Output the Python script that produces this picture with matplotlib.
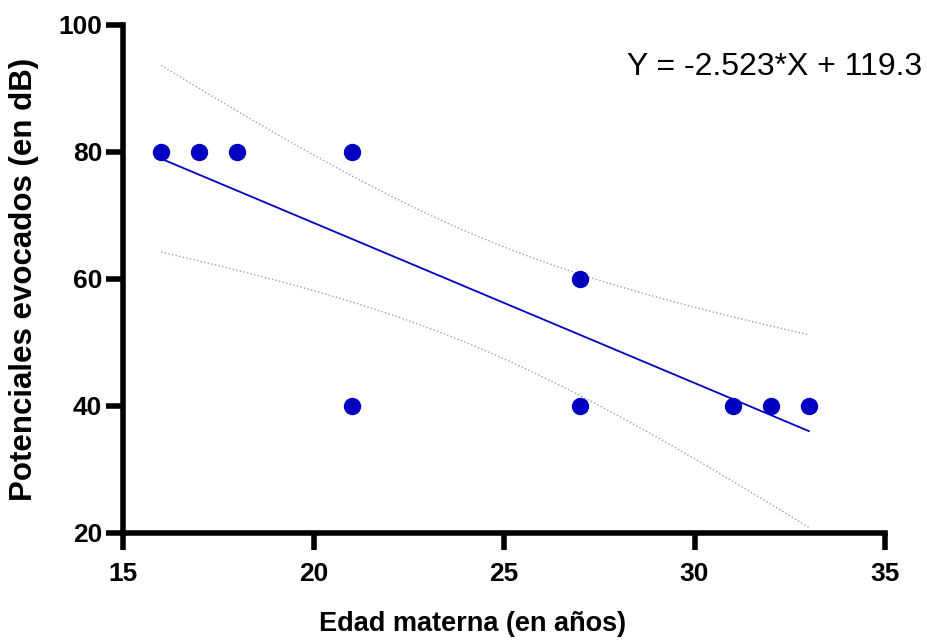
import numpy as np
import matplotlib
matplotlib.use('Agg')
import matplotlib.pyplot as plt

# Datos: edad materna vs potenciales evocados
edad = np.array([16, 17, 18, 21, 21, 27, 27, 31, 32, 33])
potenciales = np.array([80, 80, 80, 80, 40, 60, 40, 40, 40, 40])

plt.rcParams['font.family'] = ['Liberation Sans', 'DejaVu Sans']

fig = plt.figure(figsize=(9.27, 6.42), dpi=100)
ax = fig.add_axes([0.1327, 0.1698, 0.822, 0.7913])

# Regresión lineal con banda de confianza 95%
n = len(edad)
pendiente, intercepto = np.polyfit(edad, potenciales, 1)
xs = np.linspace(edad.min(), edad.max(), 100)
ys = pendiente * xs + intercepto
resid = potenciales - (pendiente * edad + intercepto)
s = np.sqrt(np.sum(resid ** 2) / (n - 2))
sxx = np.sum((edad - edad.mean()) ** 2)
t = 2.306  # t(0.975, 8 gl)
se = s * np.sqrt(1 / n + (xs - edad.mean()) ** 2 / sxx)

azul = '#0000C0'
ax.plot(xs, ys + t * se, ':', color='#a0a0a0', lw=1.0)
ax.plot(xs, ys - t * se, ':', color='#a0a0a0', lw=1.0)
ax.plot(xs, ys, '-', color=azul, lw=1.3)
ax.plot(edad, potenciales, 'o', color=azul, ms=11.5, clip_on=False, zorder=5)

ax.text(1.0486, 0.917, 'Y = %.3f*X + %.1f' % (pendiente, intercepto),
        transform=ax.transAxes, ha='right', va='center', fontsize=23)

ax.set_xlim(15, 35)
ax.set_ylim(20, 100)
ax.set_xticks([15, 20, 25, 30, 35])
ax.set_yticks([20, 40, 60, 80, 100])

for lado in ['top', 'right']:
    ax.spines[lado].set_visible(False)
for lado in ['left', 'bottom']:
    ax.spines[lado].set_linewidth(4)
    ax.spines[lado].set_capstyle('projecting')
ax.tick_params(width=4, length=12, labelsize=19)
ax.tick_params(axis='x', pad=9)
ax.tick_params(axis='y', pad=3)
for lbl in ax.get_xticklabels() + ax.get_yticklabels():
    lbl.set_fontweight('bold')

ax.set_xlabel('Edad materna (en años)', fontsize=19.5, fontweight='bold', va='center')
ax.xaxis.set_label_coords(0.459, -0.179)
ax.set_ylabel('Potenciales evocados (en dB)', fontsize=22.5, fontweight='bold', va='center')
ax.yaxis.set_label_coords(-0.130, 0.5)

plt.savefig('out.png', dpi=100)
